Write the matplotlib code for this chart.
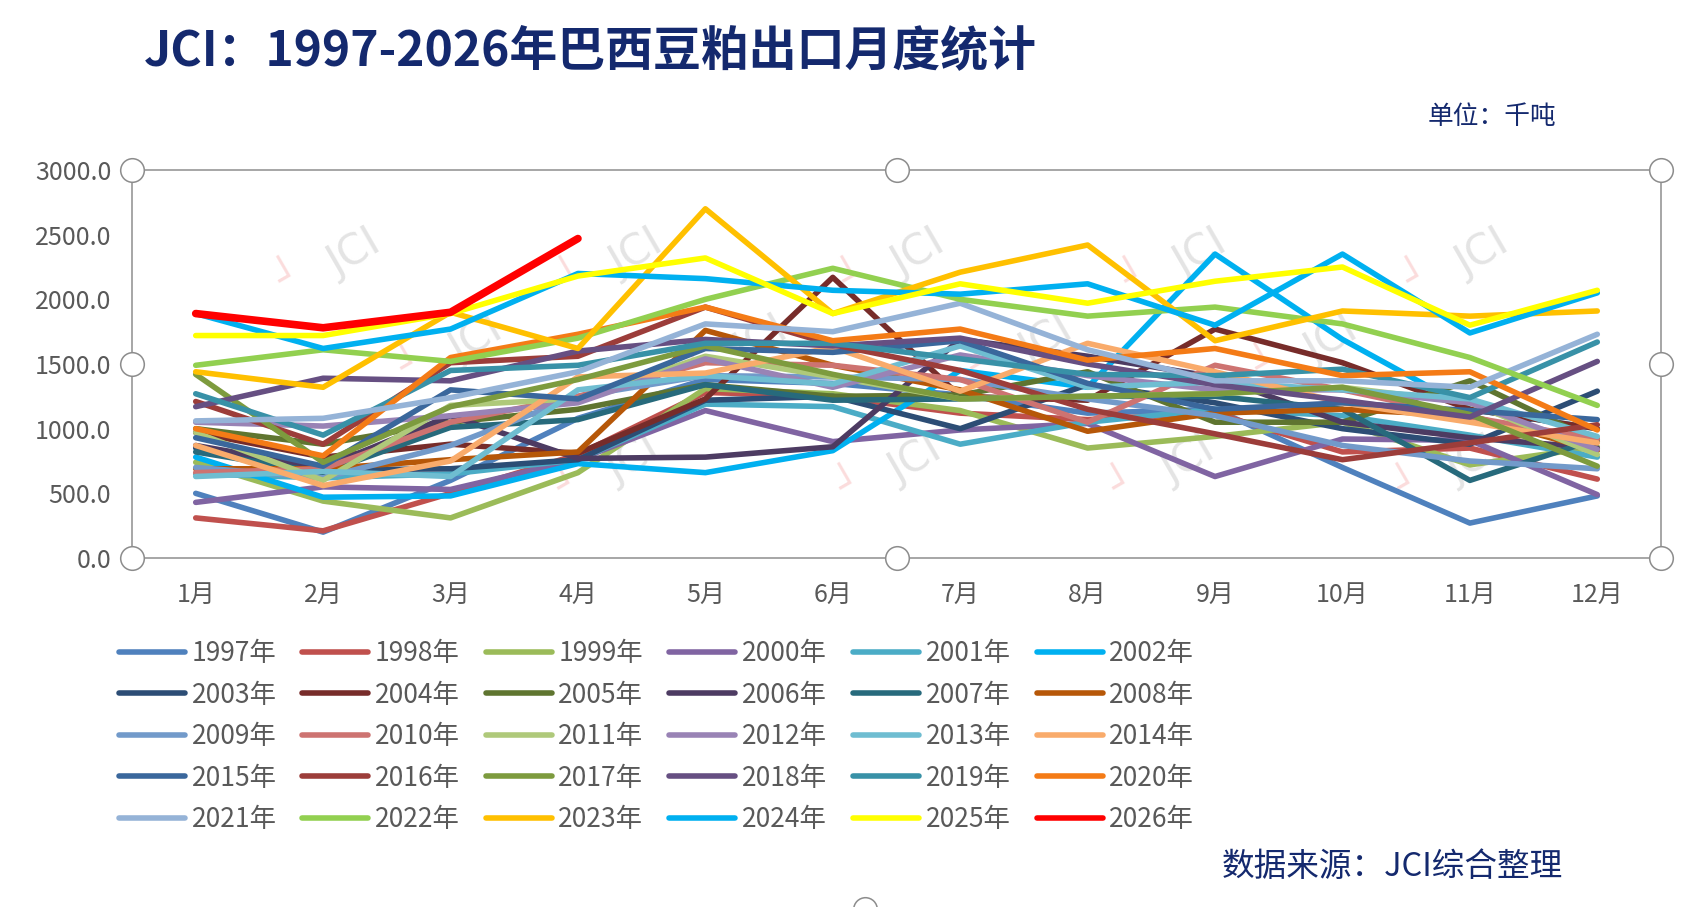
import matplotlib
matplotlib.use("Agg")
import matplotlib.pyplot as plt
from matplotlib.lines import Line2D

plt.rcParams['font.family'] = ['Noto Sans CJK SC', 'DejaVu Sans']

months = ['1月', '2月', '3月', '4月', '5月', '6月', '7月', '8月', '9月', '10月', '11月', '12月']
years = [str(y) + '年' for y in range(1997, 2027)]

y1997 = [500, 200, 600, 1080, 1380, 1350, 1260, 1120, 1150, 700, 270, 480]
y1998 = [310, 210, 500, 800, 1280, 1250, 1120, 1070, 1120, 820, 850, 610]
y1999 = [740, 440, 310, 660, 1310, 1270, 1140, 850, 940, 1050, 720, 860]
y2000 = [430, 550, 530, 760, 1140, 900, 990, 1040, 630, 920, 910, 490]
y2001 = [650, 620, 650, 760, 1190, 1170, 880, 1050, 1150, 1100, 950, 780]
y2002 = [780, 470, 480, 730, 660, 830, 1450, 1320, 2350, 1690, 1150, 1000]
y2003 = [850, 680, 690, 760, 1220, 1250, 1000, 1340, 1200, 1000, 880, 1290]
y2004 = [970, 780, 880, 810, 1230, 2170, 1250, 1220, 1770, 1510, 1150, 1000]
y2005 = [1000, 880, 1050, 1150, 1340, 1250, 1260, 1440, 1050, 1050, 1370, 900]
y2006 = [870, 700, 1100, 770, 780, 860, 1690, 1560, 1400, 1050, 930, 850]
y2007 = [820, 660, 1010, 1070, 1340, 1220, 1230, 1250, 1250, 1150, 600, 920]
y2008 = [690, 690, 760, 820, 1760, 1490, 1300, 980, 1120, 1150, 1100, 830]
y2009 = [700, 620, 870, 1250, 1410, 1400, 1380, 1230, 1100, 870, 750, 690]
y2010 = [660, 690, 1050, 1250, 1510, 1490, 1380, 1050, 1490, 1300, 1090, 920]
y2011 = [970, 600, 1180, 1230, 1560, 1400, 1230, 1250, 1270, 1320, 1200, 800]
y2012 = [1050, 1020, 1100, 1200, 1540, 1320, 1570, 1410, 1300, 1300, 1200, 840]
y2013 = [630, 670, 630, 1300, 1410, 1345, 1640, 1320, 1360, 1300, 1230, 940]
y2014 = [870, 560, 750, 1400, 1430, 1630, 1290, 1660, 1440, 1200, 1050, 890]
y2015 = [930, 710, 1300, 1230, 1620, 1590, 1680, 1350, 1150, 1200, 1140, 1070]
y2016 = [1210, 880, 1510, 1560, 1940, 1650, 1450, 1150, 960, 760, 890, 1030]
y2017 = [1420, 740, 1170, 1380, 1640, 1420, 1230, 1250, 1270, 1320, 1110, 710]
y2018 = [1170, 1390, 1370, 1600, 1690, 1640, 1700, 1500, 1340, 1220, 1090, 1520]
y2019 = [1270, 950, 1450, 1490, 1660, 1660, 1540, 1420, 1410, 1460, 1240, 1670]
y2020 = [1000, 790, 1550, 1730, 1940, 1680, 1770, 1530, 1620, 1410, 1440, 990]
y2021 = [1060, 1080, 1240, 1440, 1810, 1750, 1970, 1610, 1370, 1370, 1320, 1730]
y2022 = [1490, 1610, 1520, 1700, 2000, 2240, 2000, 1870, 1940, 1810, 1550, 1180]
y2023 = [1440, 1320, 1900, 1620, 2700, 1890, 2210, 2420, 1680, 1910, 1870, 1910]
y2024 = [1890, 1620, 1770, 2200, 2160, 2070, 2040, 2120, 1800, 2350, 1740, 2050]
y2025 = [1720, 1720, 1890, 2180, 2320, 1890, 2120, 1970, 2140, 2250, 1800, 2070]
y2026 = [1890, 1780, 1900, 2470]

series = [y1997, y1998, y1999, y2000, y2001, y2002, y2003, y2004, y2005, y2006,
          y2007, y2008, y2009, y2010, y2011, y2012, y2013, y2014, y2015, y2016,
          y2017, y2018, y2019, y2020, y2021, y2022, y2023, y2024, y2025, y2026]

colors = ['#4F81BD', '#C0504D', '#9BBB59', '#8064A2', '#4BACC6', '#00B0F0',
          '#2C4D75', '#772C2A', '#5F7530', '#4D3B62', '#276A7C', '#B65708',
          '#729ACA', '#CD7371', '#AFC97A', '#9983B5', '#6FBDD1', '#F9AB6B',
          '#3A679C', '#9C3D3A', '#7D9B3E', '#664F82', '#3891A7', '#F47B16',
          '#95B3D7', '#92D050', '#FFC000', '#00B0F0', '#FFFF00', '#FF0000']

W, H = 1697, 907
fig = plt.figure(figsize=(W / 100, H / 100), dpi=100)
fig.patch.set_facecolor('white')
L, R, T, B = 132, 1661, 170, 558
ax = fig.add_axes([L / W, 1 - B / H, (R - L) / W, (B - T) / H])

# watermarks
wm = [(333, 258), (615, 258), (897, 258), (1179, 258), (1461, 258),
      (455, 345), (740, 345), (1025, 345), (1310, 345),
      (612, 465), (894, 465), (1167, 465), (1452, 465)]
for (px, py) in wm:
    fx = (px - L) / (R - L)
    fy = (B - py) / (B - T)
    ax.text(fx + 0.014, fy + 0.012, 'JCI', transform=ax.transAxes, rotation=30,
            fontsize=30, color='#E4E4E4', ha='center', va='center',
            family='DejaVu Sans', zorder=0)
    ax.text(fx - 0.028, fy - 0.05, '\u2518', transform=ax.transAxes, rotation=30,
            fontsize=28, color='#FBDCDC', ha='center', va='center',
            family='DejaVu Sans', zorder=0)

x = list(range(1, 13))
handles = []
for i, (vals, c, lab) in enumerate(zip(series, colors, years)):
    lw = 5.5 if i == len(series) - 1 else 4.0
    ln, = ax.plot(x[:len(vals)], vals, color=c, lw=lw, label=lab,
                  solid_capstyle='round', solid_joinstyle='round', zorder=2 + i * 0.01)
    handles.append(ln)

ax.set_xlim(0.5, 12.5)
ax.set_ylim(0, 3000)
ax.set_xticks(x)
ax.set_xticklabels(months)
yt = list(range(0, 3001, 500))
ax.set_yticks(yt)
ax.set_yticklabels([f'{v:.1f}' for v in yt])
ax.tick_params(axis='both', length=0, labelsize=18, colors='#595959')
ax.tick_params(axis='y', pad=15)
ax.tick_params(axis='x', pad=17)
for s in ax.spines.values():
    s.set_color('#A6A6A6')
    s.set_linewidth(1.4)

# selection handles
hx = [0, 0, 0, 0.5, 0.5, 1, 1, 1]
hy = [1, 0.5, 0, 1, 0, 1, 0.5, 0]
ax.plot(hx, hy, ls='none', marker='o', ms=17, mfc='white', mec='#8C8C8C', mew=1.1,
        transform=ax.transAxes, clip_on=False, zorder=10)
fig.add_artist(Line2D([865 / W], [-2 / H], ls='none', marker='o', ms=17, mfc='white',
                      mec='#8C8C8C', mew=1.1))

# legend filled row by row (6 per row)
ncol, nrow = 6, 5
order = [r * ncol + c for c in range(ncol) for r in range(nrow)]
leg = ax.legend([handles[k] for k in order], [years[k] for k in order],
                loc='upper left', bbox_to_anchor=(119 / W, 1 - 640 / H),
                bbox_transform=fig.transFigure, ncol=ncol, frameon=False,
                fontsize=19, handlelength=2.5, handletextpad=0.25,
                columnspacing=0.98, labelspacing=0.55, borderpad=0, borderaxespad=0)
for t in leg.get_texts():
    t.set_color('#595959')
for h in leg.get_lines():
    h.set_linewidth(4.0)
    h.set_solid_capstyle('round')

navy = '#14296E'
fig.text(144 / W, 1 - 51 / H, 'JCI：1997-2026年巴西豆粕出口月度统计', fontsize=34.5,
         fontweight='bold', color=navy, ha='left', va='center')
fig.text(1556 / W, 1 - 117 / H, '单位：千吨', fontsize=18.5, color=navy,
         ha='right', va='center')
fig.text(1563 / W, 1 - 867 / H, '数据来源：JCI综合整理', fontsize=23.5, color=navy,
         ha='right', va='center')

fig.savefig('out.png', dpi=100, facecolor='white')
